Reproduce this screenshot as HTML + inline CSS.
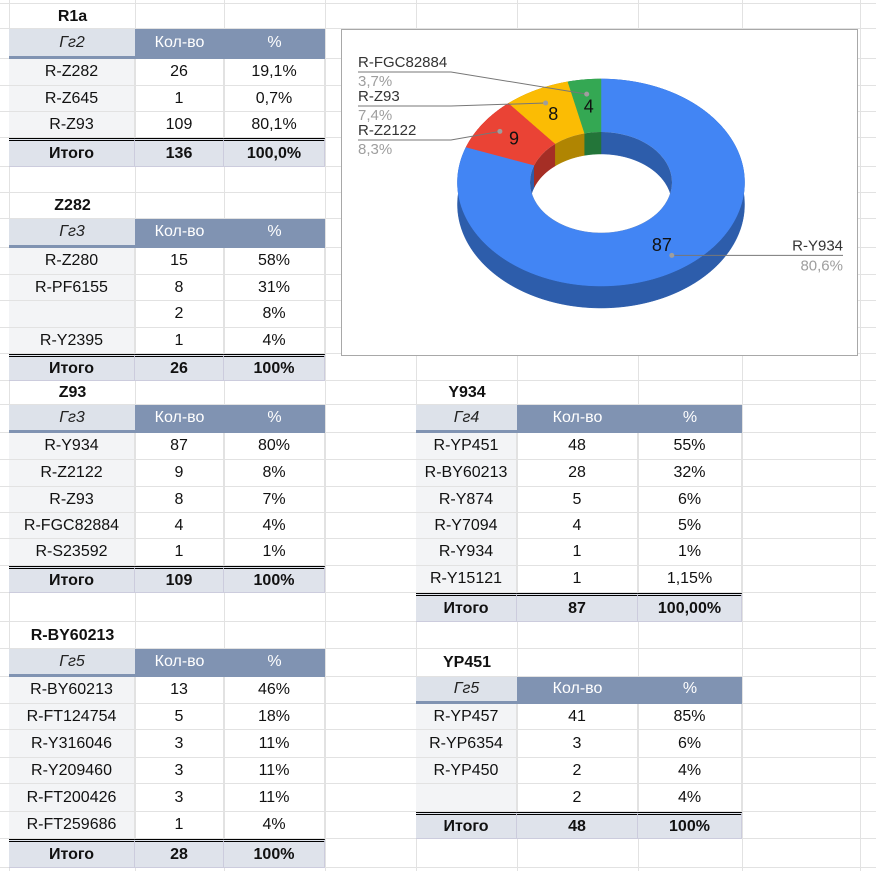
<!DOCTYPE html>
<html><head><meta charset="utf-8">
<style>
html,body{margin:0;padding:0;background:#fff;}
body{width:876px;height:871px;position:relative;overflow:hidden;font-family:"Liberation Sans",Arial,sans-serif;}
.gl{position:absolute;background:#e2e2e2;}
.c{position:absolute;box-sizing:border-box;display:flex;align-items:center;justify-content:center;font-size:16px;color:#111;white-space:nowrap;}
.t{font-weight:bold;}
.hg{background:#dde2ea;font-style:italic;color:#222;}
.hh{background:#8093b2;color:#fff;}
.hb{border-bottom:3px solid #8093b2;}
.f{background:#f3f4f6;border-bottom:1px solid #e2e2e2;border-right:1px solid #e2e2e2;}
.d{border-bottom:1px solid #e2e2e2;border-right:1px solid #e2e2e2;}
.tot{background:#dfe3eb;font-weight:bold;border-top:3px double #000;border-right:1px solid #ccd;border-bottom:1px solid #ccd;}
#chart{position:absolute;left:341px;top:29px;width:517px;height:327px;box-sizing:border-box;border:1px solid #a8a8a8;background:#fff;}
</style></head>
<body>
<div id="grid"></div>
<div id="tables"></div>
<div id="chart">
<svg id="svg" width="515" height="325" viewBox="341 29 515 325" xmlns="http://www.w3.org/2000/svg" style="position:absolute;left:0;top:0">
<defs><clipPath id="hole"><ellipse cx="600" cy="181.5" rx="71" ry="50.5"/></clipPath></defs>
<g id="walls"></g><g id="faces"></g><g id="inner" clip-path="url(#hole)"></g><g id="labels" font-family="Liberation Sans, Arial, sans-serif"></g>
</svg>
</div>
<script>
// ---- Sheet grid ----
var colLines=[9,135,224,325,416,517,638,742,860];
var rowLines=[3,28,58,85,111,137,166,192,218,247,274,300,327,353,380,404,432,459,486,512,538,565,592,621,648,676,703,729,757,783,811,838,867];
var grid=document.getElementById('grid');
colLines.forEach(function(x){var d=document.createElement('div');d.className='gl';d.style.cssText='left:'+x+'px;top:0;width:1px;height:871px';


grid.appendChild(d);});
rowLines.forEach(function(y){var d=document.createElement('div');d.className='gl';d.style.cssText='left:0;top:'+y+'px;width:876px;height:1px';


grid.appendChild(d);});

// ---- Tables ----
var LEFT=[9,135,224,325], RIGHT=[416,517,638,742];
var tablesData=[
 {name:'r1a',cols:LEFT,row:0,title:'R1a',g:'Гг2',rows:[['R-Z282','26','19,1%'],['R-Z645','1','0,7%'],['R-Z93','109','80,1%']],tot:['136','100,0%']},
 {name:'z282',cols:LEFT,row:7,title:'Z282',g:'Гг3',rows:[['R-Z280','15','58%'],['R-PF6155','8','31%'],['','2','8%'],['R-Y2395','1','4%']],tot:['26','100%']},
 {name:'z93',cols:LEFT,row:14,title:'Z93',g:'Гг3',rows:[['R-Y934','87','80%'],['R-Z2122','9','8%'],['R-Z93','8','7%'],['R-FGC82884','4','4%'],['R-S23592','1','1%']],tot:['109','100%']},
 {name:'r-by60213',cols:LEFT,row:23,title:'R-BY60213',g:'Гг5',rows:[['R-BY60213','13','46%'],['R-FT124754','5','18%'],['R-Y316046','3','11%'],['R-Y209460','3','11%'],['R-FT200426','3','11%'],['R-FT259686','1','4%']],tot:['28','100%']},
 {name:'y934',cols:RIGHT,row:14,title:'Y934',g:'Гг4',rows:[['R-YP451','48','55%'],['R-BY60213','28','32%'],['R-Y874','5','6%'],['R-Y7094','4','5%'],['R-Y934','1','1%'],['R-Y15121','1','1,15%']],tot:['87','100,00%']},
 {name:'yp451',cols:RIGHT,row:24,title:'YP451',g:'Гг5',rows:[['R-YP457','41','85%'],['R-YP6354','3','6%'],['R-YP450','2','4%'],['','2','4%']],tot:['48','100%']}
];
var host=document.getElementById('tables');
function cell(cls,x0,x1,ri,text,name){
 var d=document.createElement('div');d.className='c '+cls;
 var y0=rowLines[ri],y1=rowLines[ri+1];
 d.style.left=x0+'px';d.style.top=(y0+1)+'px';d.style.width=(x1-x0+1)+'px';d.style.height=(y1-y0)+'px';
 d.textContent=text;
 
 
 host.appendChild(d);return d;
}
tablesData.forEach(function(t){
 var c=t.cols,r=t.row;
 cell('t',c[0],c[1],r,t.title,t.name+'-title');
 cell('hg hb',c[0],c[1]-1,r+1,t.g,t.name+'-header-group');
 cell('hh hb',c[1],c[2]-1,r+1,'Кол-во',t.name+'-header-count');
 cell('hh hb',c[2],c[3]-1,r+1,'%',t.name+'-header-percent');
 t.rows.forEach(function(row,i){
  cell('f',c[0],c[1]-1,r+2+i,row[0],t.name+'-row-label');
  cell('d',c[1],c[2]-1,r+2+i,row[1],t.name+'-row-count');
  cell('d',c[2],c[3]-1,r+2+i,row[2],t.name+'-row-percent');
 });
 var tr=r+2+t.rows.length;
 cell('tot',c[0],c[1]-1,tr,'Итого',t.name+'-total-label');
 cell('tot',c[1],c[2]-1,tr,t.tot[0],t.name+'-total-count');
 cell('tot',c[2],c[3]-1,tr,t.tot[1],t.name+'-total-percent');
});

// ---- Donut chart data ----
var sliceLabels=['R-Y934','R-Z2122','R-Z93','R-FGC82884'];
var sliceValues=[87,9,8,4];
var slicePercents=['80,6%','8,3%','7,4%','3,7%'];
var topColors=['#4285f4','#ea4335','#fbbc04','#34a853'];
var wallColors=['#2d5dab','#a52e25','#b08502','#237539'];

var CX=600,CY=181.5,RX=143.5,RY=103.5,IRX=71,IRY=50.5,DEPTH=22;
var NS='http://www.w3.org/2000/svg';
function pt(rx,ry,a,dy){return [CX+rx*Math.sin(a),CY-ry*Math.cos(a)+(dy||0)];}
function arc(rx,ry,a0,a1,dy){var p=[],n=Math.max(4,Math.ceil((a1-a0)*60));for(var i=0;i<=n;i++){p.push(pt(rx,ry,a0+(a1-a0)*i/n,dy));}return p;}
function poly(points,fill,parent,name){var e=document.createElementNS(NS,'path');
 e.setAttribute('d','M'+points.map(function(q){return q[0].toFixed(2)+','+q[1].toFixed(2);}).join('L')+'Z');
 e.setAttribute('fill',fill);e.setAttribute('stroke',fill);e.setAttribute('stroke-width','0.5');
 
 
 parent.appendChild(e);}
var total=sliceValues.reduce(function(a,b){return a+b;},0);
var walls=document.getElementById('walls'),faces=document.getElementById('faces'),inner=document.getElementById('inner'),labels=document.getElementById('labels');
var a=0, mids=[];
sliceValues.forEach(function(v,i){
 var a0=a,a1=a+v/total*2*Math.PI;a=a1;mids.push((a0+a1)/2);
 var top=arc(RX,RY,a0,a1,0),bot=arc(RX,RY,a0,a1,DEPTH).reverse();
 poly(top.concat(bot),wallColors[i],walls,'slice-wall-'+sliceLabels[i].toLowerCase());
 var itop=arc(IRX,IRY,a0,a1,0),ibot=arc(IRX,IRY,a0,a1,DEPTH).reverse();
 poly(itop.concat(ibot),wallColors[i],inner,'slice-inner-wall-'+sliceLabels[i].toLowerCase());
 var face=arc(RX,RY,a0,a1,0).concat(arc(IRX,IRY,a0,a1,0).reverse());
 poly(face,topColors[i],faces,'slice-'+sliceLabels[i].toLowerCase());
});
var hole=document.createElementNS(NS,'ellipse');
hole.setAttribute('cx',CX);hole.setAttribute('cy',CY);hole.setAttribute('rx',IRX);hole.setAttribute('ry',IRY);hole.setAttribute('fill','#fff');


faces.appendChild(hole);

function txt(x,y,s,size,fill,anchor,name){var e=document.createElementNS(NS,'text');
 e.setAttribute('x',x);e.setAttribute('y',y);e.setAttribute('font-size',size);e.setAttribute('fill',fill);e.setAttribute('text-anchor',anchor);
 e.textContent=s;
 
 
 labels.appendChild(e);}
sliceValues.forEach(function(v,i){var p=pt(RX*0.74,RY*0.74,mids[i],0);
 txt(p[0].toFixed(1),(p[1]+6).toFixed(1),String(v),18,'#111','middle','value-label-'+sliceLabels[i].toLowerCase());});
function line(pts,name){var e=document.createElementNS(NS,'polyline');
 e.setAttribute('points',pts.map(function(q){return q.join(',');}).join(' '));
 e.setAttribute('fill','none');e.setAttribute('stroke','#777');e.setAttribute('stroke-width','1');
 
 
 labels.appendChild(e);}
function dot(p,name){var e=document.createElementNS(NS,'circle');e.setAttribute('cx',p[0]);e.setAttribute('cy',p[1]);e.setAttribute('r','2.5');e.setAttribute('fill','#9e9e9e');
 
 
 labels.appendChild(e);}
var leftSlots=[null,134,100,66];
sliceLabels.forEach(function(lab,i){
 var p=pt(RX*0.86,RY*0.86,mids[i],0);p=[+p[0].toFixed(1),+p[1].toFixed(1)];
 if(i===0){
  line([p,[842,p[1]]],'callout-line-'+lab.toLowerCase());dot(p,'callout-dot-'+lab.toLowerCase());
  txt(842,p[1]-5,lab,15,'#333','end','callout-label-'+lab.toLowerCase());
  txt(842,p[1]+15,slicePercents[i],15,'#9e9e9e','end','callout-percent-'+lab.toLowerCase());
 } else {
  var ly=leftSlots[i];
  line([[357,ly+5],[450,ly+5],p],'callout-line-'+lab.toLowerCase());dot(p,'callout-dot-'+lab.toLowerCase());
  txt(357,ly,lab,15,'#333','start','callout-label-'+lab.toLowerCase());
  txt(357,ly+19,slicePercents[i],15,'#9e9e9e','start','callout-percent-'+lab.toLowerCase());
 }
});
</script>
</body></html>
